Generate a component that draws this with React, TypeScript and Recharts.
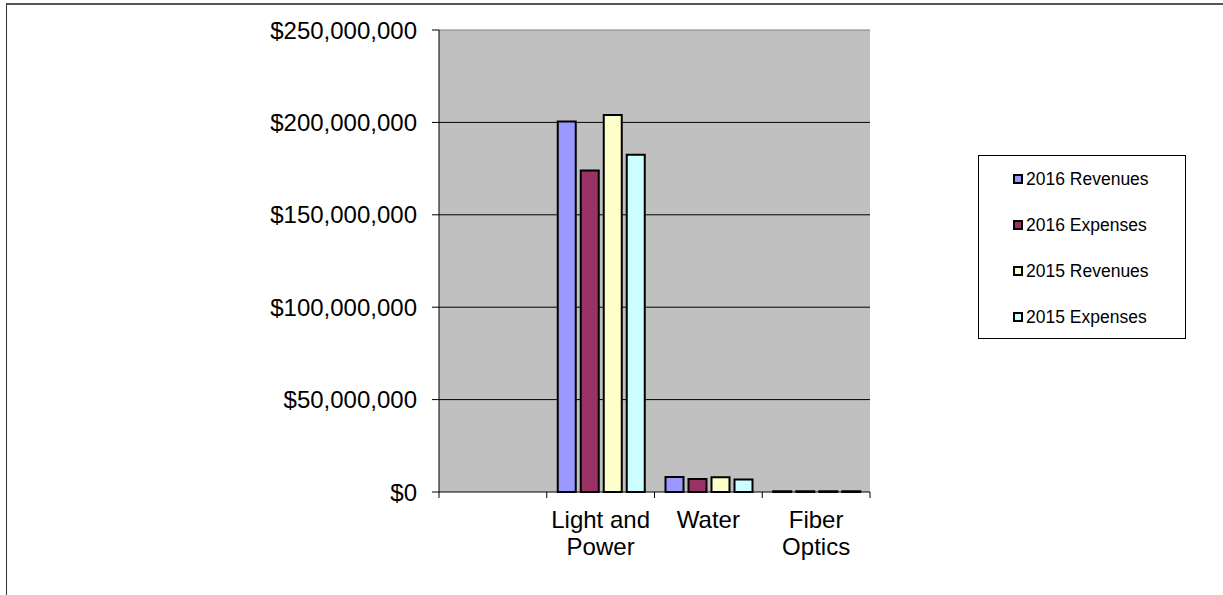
import { BarChart, Bar, XAxis, YAxis, CartesianGrid, ReferenceLine } from 'recharts';

const categories = ['', 'Light and Power', 'Water', 'Fiber Optics'];
const tickLabels = [[], ['Light and', 'Power'], ['Water'], ['Fiber', 'Optics']];
const revenues2016 = [null, 200500000, 8100000, 400000];
const expenses2016 = [null, 174000000, 7000000, 400000];
const revenues2015 = [null, 204000000, 8000000, 400000];
const expenses2015 = [null, 182500000, 6800000, 400000];
const yTicks = [0, 50000000, 100000000, 150000000, 200000000, 250000000];

const series = [
  { key: 'rev2016', name: '2016 Revenues', color: '#9999FF', values: revenues2016 },
  { key: 'exp2016', name: '2016 Expenses', color: '#993366', values: expenses2016 },
  { key: 'rev2015', name: '2015 Revenues', color: '#FFFFCC', values: revenues2015 },
  { key: 'exp2015', name: '2015 Expenses', color: '#CCFFFF', values: expenses2015 },
];

const data = categories.map((name, i) => {
  const row: Record<string, string | number | null> = { name };
  series.forEach((s) => {
    row[s.key] = s.values[i];
  });
  return row;
});

const FONT = '"Liberation Sans", Arial, sans-serif';
const AXIS_FONT_SIZE = 24;
const W = 1223;
const H = 595;
const TOP = 30;
const LEFT = 439;
const RIGHT = 353;
const BOTTOM = 103;
const PLOT_W = W - LEFT - RIGHT;
const PLOT_BOTTOM = H - BOTTOM;

const money = (v: number) => '$' + v.toLocaleString('en-US');

function CategoryTick(props: any) {
  const { x, index } = props;
  const half = PLOT_W / categories.length / 2;
  const lines = tickLabels[index] || [];
  return (
    <g>
      <line x1={x - half} x2={x - half} y1={PLOT_BOTTOM} y2={PLOT_BOTTOM + 6} stroke="#000" />
      {index === categories.length - 1 && (
        <line x1={x + half} x2={x + half} y1={PLOT_BOTTOM} y2={PLOT_BOTTOM + 6} stroke="#000" />
      )}
      <text
        x={x}
        y={PLOT_BOTTOM + 36}
        textAnchor="middle"
        fontSize={AXIS_FONT_SIZE}
        fontFamily={FONT}
        fill="#000"
      >
        {lines.map((line, i) => (
          <tspan key={i} x={x} dy={i === 0 ? 0 : 27}>
            {line}
          </tspan>
        ))}
      </text>
    </g>
  );
}

export default function App() {
  return (
    <div style={{ position: 'absolute', left: 0, top: 0, width: W, height: H, overflow: 'hidden', background: '#fff' }}>
      <div
        style={{
          position: 'absolute',
          left: 6,
          top: 3,
          width: W - 6,
          height: H - 3,
          borderLeft: '1px solid #333',
          borderTop: '2px solid #555',
          boxSizing: 'border-box',
        }}
      />
      <div style={{ position: 'absolute', left: 0, top: 0 }}>
        <BarChart
          width={W}
          height={H}
          data={data}
          margin={{ top: TOP, right: RIGHT, bottom: 0, left: 0 }}
          barCategoryGap={11}
          barGap={5}
        >
          <CartesianGrid
            vertical={false}
            fill="#C0C0C0"
            fillOpacity={1}
            stroke="#000"
            horizontalValues={[50000000, 100000000, 150000000, 200000000]}
          />
          <XAxis
            dataKey="name"
            height={BOTTOM}
            tickLine={false}
            axisLine={{ stroke: '#000' }}
            tick={<CategoryTick />}
            interval={0}
          />
          <YAxis
            width={LEFT}
            domain={[0, 250000000]}
            ticks={yTicks}
            tickFormatter={money}
            tickSize={7}
            tickMargin={15}
            tickLine={{ stroke: '#000' }}
            axisLine={{ stroke: '#000' }}
            tick={{ fontSize: AXIS_FONT_SIZE, fill: '#000', fontFamily: FONT }}
          />
          <YAxis
            yAxisId="r"
            orientation="right"
            width={0}
            domain={[0, 250000000]}
            tick={false}
            tickLine={false}
            axisLine={{ stroke: '#808080' }}
          />
          <ReferenceLine y={250000000} stroke="#808080" />
          {series.map((s) => (
            <Bar
              key={s.key}
              dataKey={s.key}
              name={s.name}
              fill={s.color}
              stroke="#000"
              strokeWidth={2}
              isAnimationActive={false}
            />
          ))}
        </BarChart>
      </div>
      <div
        style={{
          position: 'absolute',
          left: 978,
          top: 155,
          width: 208,
          height: 184,
          border: '1px solid #000',
          boxSizing: 'border-box',
          background: '#fff',
          fontFamily: FONT,
          fontSize: 17.5,
          color: '#000',
        }}
      >
        {series.map((s) => (
          <div key={s.key} style={{ height: 46, display: 'flex', alignItems: 'center', paddingLeft: 34 }}>
            <span
              style={{
                display: 'inline-block',
                width: 10,
                height: 10,
                boxSizing: 'border-box',
                border: '2px solid #000',
                background: s.color,
                marginRight: 3,
              }}
            />
            <span>{s.name}</span>
          </div>
        ))}
      </div>
    </div>
  );
}
